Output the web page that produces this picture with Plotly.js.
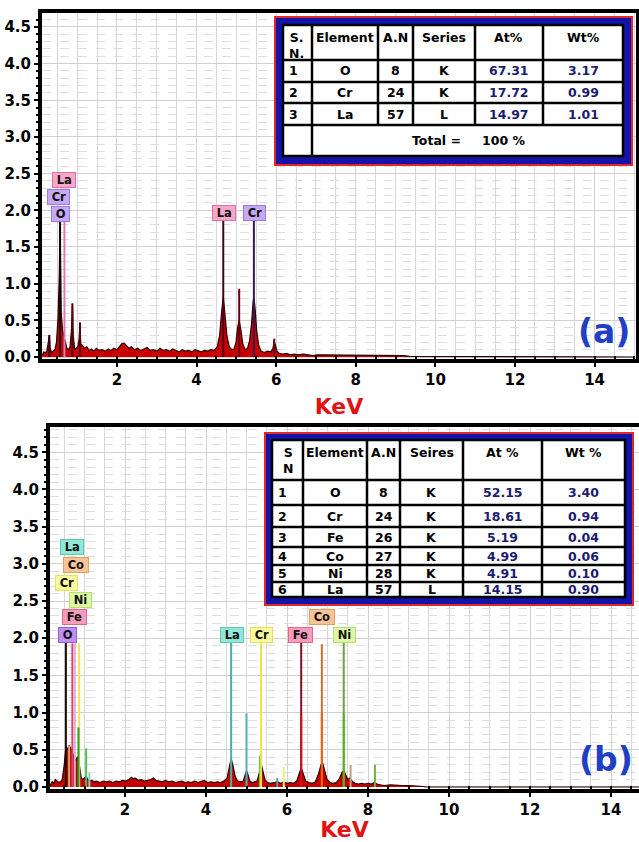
<!DOCTYPE html>
<html><head><meta charset="utf-8">
<script src="https://cdn.plot.ly/plotly-3.0.1.min.js"></script>
<style>html,body{margin:0;padding:0;background:#fff}#chart{width:639px;height:842px}</style>
</head><body><div id="chart"></div>
<script>
// ---------- DATA ----------
// Spectrum (a): energy (keV) and intensity
const energyA = [0.12,0.16,0.2,0.24,0.28,0.3,0.32,0.36,0.4,0.44,0.48,0.52,0.55,0.57,0.6,0.63,0.66,0.7,0.74,0.78,0.82,0.86,0.88,0.9,0.94,0.98,1.02,1.05,1.07,1.09,1.13,1.18,1.24,1.3,1.36,1.42,1.48,1.55,1.62,1.7,1.78,1.85,1.92,2.0,2.06,2.12,2.18,2.24,2.3,2.36,2.44,2.52,2.6,2.68,2.76,2.84,2.92,3.0,3.08,3.16,3.24,3.32,3.4,3.48,3.56,3.64,3.72,3.8,3.88,3.96,4.04,4.12,4.2,4.28,4.36,4.44,4.52,4.58,4.63,4.67,4.71,4.76,4.82,4.88,4.94,4.99,5.03,5.07,5.11,5.16,5.22,5.28,5.33,5.38,5.42,5.44,5.47,5.51,5.56,5.62,5.7,5.78,5.86,5.92,5.95,5.98,6.02,6.08,6.16,6.26,6.36,6.46,6.56,6.68,6.8,6.92,7.04,7.16,7.3,7.44,7.58,7.72,7.86,8.0,8.15,8.3,8.45,8.6,8.75,8.9,9.05,9.2,9.35,9.5,9.6,15.0];
const countsA = [0.02,0.07,0.05,0.09,0.22,0.30,0.12,0.06,0.08,0.10,0.20,0.55,1.10,1.87,0.60,0.38,0.30,0.20,0.12,0.10,0.14,0.40,0.73,0.30,0.10,0.12,0.15,0.25,0.47,0.18,0.16,0.12,0.14,0.09,0.11,0.08,0.12,0.09,0.10,0.08,0.11,0.09,0.12,0.10,0.14,0.18,0.19,0.16,0.12,0.14,0.10,0.12,0.09,0.11,0.13,0.09,0.10,0.08,0.12,0.09,0.10,0.08,0.11,0.09,0.07,0.10,0.08,0.09,0.07,0.10,0.08,0.07,0.09,0.08,0.10,0.09,0.14,0.30,0.62,0.82,0.60,0.30,0.14,0.10,0.11,0.20,0.40,0.50,0.38,0.18,0.10,0.12,0.22,0.45,0.75,0.82,0.66,0.36,0.16,0.08,0.06,0.08,0.07,0.12,0.22,0.14,0.08,0.05,0.04,0.05,0.03,0.04,0.03,0.04,0.03,0.02,0.03,0.03,0.02,0.03,0.02,0.03,0.02,0.03,0.02,0.03,0.02,0.02,0.03,0.02,0.02,0.02,0.01,0.01,0.0,0.0];

// Spectrum (b)
const energyB = [0.15,0.2,0.24,0.28,0.32,0.36,0.4,0.45,0.5,0.54,0.58,0.62,0.66,0.7,0.74,0.78,0.82,0.85,0.88,0.92,0.96,1.0,1.04,1.08,1.12,1.18,1.24,1.3,1.38,1.46,1.54,1.62,1.7,1.78,1.86,1.94,2.02,2.1,2.16,2.2,2.26,2.32,2.4,2.48,2.56,2.64,2.7,2.76,2.84,2.92,3.0,3.08,3.16,3.24,3.32,3.4,3.48,3.56,3.64,3.72,3.8,3.88,3.96,4.04,4.12,4.2,4.28,4.36,4.44,4.52,4.57,4.62,4.67,4.72,4.78,4.86,4.92,4.96,5.0,5.04,5.08,5.14,5.2,5.26,5.31,5.36,5.41,5.46,5.52,5.6,5.68,5.76,5.84,5.92,6.0,6.08,6.16,6.24,6.3,6.35,6.4,6.46,6.54,6.62,6.7,6.78,6.84,6.88,6.93,6.99,7.06,7.14,7.22,7.3,7.36,7.4,7.45,7.5,7.55,7.6,7.68,7.76,7.84,7.92,8.0,8.08,8.16,8.22,8.3,8.4,8.55,8.7,8.85,9.0,9.15,9.3,9.45,14.7];
const countsB = [0.02,0.07,0.05,0.10,0.08,0.06,0.07,0.10,0.30,0.55,0.50,0.56,0.52,0.45,0.40,0.35,0.40,0.38,0.25,0.12,0.10,0.12,0.14,0.10,0.08,0.09,0.07,0.08,0.06,0.08,0.07,0.08,0.06,0.08,0.07,0.09,0.08,0.10,0.13,0.11,0.12,0.09,0.10,0.08,0.09,0.10,0.12,0.09,0.08,0.07,0.09,0.07,0.08,0.06,0.07,0.08,0.06,0.07,0.06,0.08,0.06,0.07,0.09,0.06,0.07,0.06,0.07,0.06,0.08,0.12,0.24,0.38,0.28,0.14,0.08,0.07,0.08,0.14,0.22,0.16,0.08,0.06,0.07,0.08,0.18,0.32,0.20,0.09,0.06,0.05,0.06,0.07,0.05,0.07,0.05,0.06,0.05,0.08,0.18,0.26,0.18,0.08,0.06,0.05,0.07,0.18,0.30,0.32,0.22,0.10,0.06,0.05,0.06,0.12,0.20,0.22,0.16,0.10,0.12,0.08,0.05,0.04,0.05,0.04,0.05,0.04,0.06,0.04,0.03,0.02,0.03,0.02,0.02,0.02,0.01,0.01,0.0,0.0];

// Element marker lines (a)
const lineEnergyA = [0.30, 0.57, 0.68, 0.88, 1.07, 4.67, 5.07, 5.44, 5.95];
const lineHeightA = [0.30, 1.87, 1.87, 0.73, 0.47, 1.87, 0.93, 1.87, 0.25];
// Element marker lines (b)
const lineEnergyB = [0.54, 0.62, 0.70, 0.76, 0.87, 0.85, 1.04, 1.12, 4.62, 5.00, 5.33, 5.36, 5.76, 5.92, 6.35, 6.35, 6.86, 6.86, 7.40, 7.40, 7.57, 8.17];
const lineHeightB = [1.95, 0.56, 1.93, 1.93, 1.93, 0.80, 0.52, 0.19, 1.95, 0.99, 0.42, 1.95, 0.12, 0.27, 1.95, 0.99, 1.92, 0.99, 1.95, 0.99, 0.30, 0.30];

// Peak labels
const labelTextA = ['La','Cr','O','La','Cr'];
const labelEnergyA = [0.66, 0.53, 0.57, 4.70, 5.45];
const labelLevelA = [2.41, 2.18, 1.95, 1.96, 1.96];
const labelTextB = ['La','Co','Cr','Ni','Fe','O','La','Cr','Fe','Co','Ni'];
const labelEnergyB = [0.68, 0.80, 0.56, 0.89, 0.75, 0.57, 4.64, 5.38, 6.33, 6.86, 7.43];
const labelLevelB = [3.22, 2.98, 2.74, 2.51, 2.28, 2.05, 2.05, 2.05, 2.05, 2.28, 2.05];

// Tables
const headerA = ['S.<br>N.','Element','A.N','Series','At%','Wt%'];
const snA = ['1','2','3'];
const elemA = ['O','Cr','La'];
const anA = ['8','24','57'];
const seriesA = ['K','K','L'];
const atA = ['67.31','17.72','14.97'];
const wtA = ['3.17','0.99','1.01'];
const totalA = ['Total =','100 %'];

const headerB = ['S<br>N','Element','A.N','Seires','At %','Wt %'];
const snB = ['1','2','3','4','5','6'];
const elemB = ['O','Cr','Fe','Co','Ni','La'];
const anB = ['8','24','26','27','28','57'];
const seriesB = ['K','K','K','K','K','L'];
const atB = ['52.15','18.61','5.19','4.99','4.91','14.15'];
const wtB = ['3.40','0.94','0.04','0.06','0.10','0.90'];

const xTicks = [2,4,6,8,10,12,14];

// ---------- STYLES ----------
const W = 639, H = 842;
const px = x => x / W, py = y => 1 - y / H;
const FONT = 'DejaVu Sans';
const lineColorA = ['#3a0010','#1a0008','#e07ab4','#5a0010','#5a0010','#4a0018','#6a0018','#3a1850','#6a0018'];
const lineColorB = ['#1a0a0a','#e0a070','#e0406a','#d8b0d8','#f0e060','#20a030','#50c050','#80d0d0','#50b0a0','#50b0b8','#70c050','#f0e040','#50a0b0','#f0f080','#801020','#d01020','#d07030','#f06010','#70a040','#60b020','#c0a080','#70b040'];
const labelStyle = {
  'La_a': ['#f4a8cc','#e070a8'], 'Cr_a': ['#c6a8f4','#9a78dc'], 'O_a': ['#c6a8f4','#9a78dc'],
  'La_b': ['#92e8d6','#60c8b0'], 'Co_b': ['#f6c496','#e0a060'], 'Cr_b': ['#fafa9e','#e8e060'],
  'Ni_b': ['#dcf8a4','#b8e070'], 'Fe_b': ['#f89cbc','#e06890'], 'O_b': ['#bc90ec','#9060d0']
};

const traces = [];
traces.push({x: energyA, y: countsA, type:'scatter', mode:'lines', fill:'tozeroy',
  fillcolor:'#c80000', line:{color:'#2a0000', width:1.2}, xaxis:'x', yaxis:'y', hoverinfo:'skip'});
traces.push({x: energyB, y: countsB, type:'scatter', mode:'lines', fill:'tozeroy',
  fillcolor:'#c40000', line:{color:'#2a0000', width:1.2}, xaxis:'x2', yaxis:'y2', hoverinfo:'skip'});
lineEnergyA.forEach((e,i) => traces.push({x:[e,e], y:[0,lineHeightA[i]], type:'scatter', mode:'lines',
  line:{color:lineColorA[i], width:2}, xaxis:'x', yaxis:'y', hoverinfo:'skip'}));
lineEnergyB.forEach((e,i) => traces.push({x:[e,e], y:[0,lineHeightB[i]], type:'scatter', mode:'lines',
  line:{color:lineColorB[i], width:2}, xaxis:'x2', yaxis:'y2', hoverinfo:'skip'}));

const annotations = [];
function peakLabel(t, e, lv, xr, yr, key){
  const st = labelStyle[key];
  annotations.push({text:'&nbsp;<b>'+t+'</b>&nbsp;', x:e, y:lv, xref:xr, yref:yr, showarrow:false,
    font:{family:FONT, size:11.5, color:'#111'}, bgcolor:st[0], bordercolor:st[1], borderwidth:1, borderpad:0});
}
labelTextA.forEach((t,i)=>peakLabel(t, labelEnergyA[i], labelLevelA[i], 'x', 'y', t+'_a'));
labelTextB.forEach((t,i)=>peakLabel(t, labelEnergyB[i], labelLevelB[i], 'x2', 'y2', t+'_b'));

const shapes = [];
function txt(t, x, y, opts){
  annotations.push(Object.assign({text:t, x:px(x), y:py(y), xref:'paper', yref:'paper', showarrow:false,
    font:{family:FONT, size:12, color:'#000', weight:700}, xanchor:'center', yanchor:'middle'}, opts||{}));
}
function rect(x0,y0,x1,y1,fill,lc,lw){
  shapes.push({type:'rect', xref:'paper', yref:'paper', x0:px(x0), x1:px(x1), y0:py(y1), y1:py(y0),
    fillcolor:fill, line:{color:lc, width:lw}, layer:'above'});
}
function seg(x0,y0,x1,y1,lw){
  shapes.push({type:'line', xref:'paper', yref:'paper', x0:px(x0), x1:px(x1), y0:py(y0), y1:py(y1),
    line:{color:'#000', width:lw}, layer:'above'});
}
function drawTable(g, header, cols, colColors, total){
  rect(g.ox0, g.oy0, g.ox1, g.oy1, '#1414aa', '#e02828', 2);
  rect(g.cx[0], g.ry[0], g.cx[g.cx.length-1], g.ry[g.ry.length-1], '#ffffff', '#000', 2.5);
  const lastDataRow = g.ry[1 + cols[0].length];
  g.cx.slice(1,-1).forEach((x,i)=> seg(x, g.ry[0], x, i===0 ? g.ry[g.ry.length-1] : lastDataRow, 2.5));
  g.ry.slice(1,-1).forEach(y=> seg(g.cx[0], y, g.cx[g.cx.length-1], y, 2.5));
  header.forEach((h,j)=>{
    const x = j===0 ? g.cx[0]+ (g.snLeft? 4 : (g.cx[1]-g.cx[0])/2) : (g.cx[j]+g.cx[j+1])/2;
    txt('<b>'+h+'</b>', x, g.ry[0]+3, {yanchor:'top', xanchor: (j===0 && g.snLeft)?'left':'center',
      font:{family:FONT, size:12.5, color:'#000', weight:700}});
  });
  cols.forEach((col,j)=>{
    col.forEach((v,r)=>{
      const y = (g.ry[r+1]+g.ry[r+2])/2;
      const x = j===0 ? g.cx[0]+4 : (g.cx[j]+g.cx[j+1])/2;
      txt('<b>'+v+'</b>', x, y, {xanchor: j===0?'left':'center', font:{family:FONT, size:12.5, color:colColors[j], weight:700}});
    });
  });
  if(total){
    const y = (g.ry[g.ry.length-2]+g.ry[g.ry.length-1])/2;
    txt('<b>'+total[0]+'</b>', (g.cx[3]+g.cx[4])/2 - 8, y, {font:{family:FONT, size:12.5, color:'#000'}});
    txt('<b>'+total[1]+'</b>', (g.cx[4]+g.cx[5])/2 - 5, y, {font:{family:FONT, size:12.5, color:'#000'}});
  }
}
const navy = '#1c1c6e';
drawTable({ox0:275, oy0:17, ox1:632, oy1:165, cx:[283,312,378,413,475,543,623], ry:[25,60,82,103,125,156], snLeft:true},
  headerA, [snA, elemA, anA, seriesA, atA, wtA], ['#000','#000','#000','#000',navy,navy], totalA);
drawTable({ox0:265, oy0:433, ox1:633, oy1:605, cx:[272,303,367,400,463,542,625], ry:[440,480,505,527,547,565,582,597], snLeft:false},
  headerB, [snB, elemB, anB, seriesB, atB, wtB], ['#000','#000','#000','#000',navy,navy], null);

annotations.push({text:'<b>(a)</b>', x:px(604), y:py(331), xref:'paper', yref:'paper', showarrow:false,
  font:{family:FONT, size:33, color:'#1f3fc4'}, xanchor:'center', yanchor:'middle'});
annotations.push({text:'<b>(b)</b>', x:px(606), y:py(759), xref:'paper', yref:'paper', showarrow:false,
  font:{family:FONT, size:33, color:'#1f3fc4'}, xanchor:'center', yanchor:'middle'});

const tickFont = {family:FONT, size:15, color:'#000', weight:700};
function xAxis(dom, rng, anchor){
  return {domain:dom, range:rng, anchor:anchor, tickmode:'array', tickvals:xTicks, ticktext:xTicks.map(String),
    ticks:'outside', ticklen:4, tickwidth:2, tickcolor:'#000', tickfont:tickFont,
    showline:true, linecolor:'#000', linewidth:4, mirror:true, zeroline:false,
    showgrid:true, gridcolor:'#d2d2d2', gridwidth:1,
    minor:{dtick:0.5, tick0:0, showgrid:true, gridcolor:'#d8d8d8', gridwidth:1, ticks:'inside', ticklen:3, tickcolor:'#000'},
    title:{text:'<b>KeV</b>', font:{family:FONT, size:22, color:'#e01414'}, standoff:12}};
}
function yAxis(dom, rng, anchor, mirror){
  return {domain:dom, range:rng, anchor:anchor, dtick:0.5, tick0:0, tickformat:'.1f',
    ticks:'outside', ticklen:4, tickwidth:2, tickcolor:'#000', tickfont:tickFont,
    showline:true, linecolor:'#000', linewidth:4, mirror:mirror, zeroline:false,
    showgrid:true, gridcolor:'#d0d0d0', gridwidth:1,
    minor:{dtick:0.1, showgrid:true, gridcolor:'#dedede', gridwidth:1, griddash:'dash', ticks:'outside', ticklen:2, tickcolor:'#000'}};
}

const layout = {
  width:W, height:H, margin:{l:0, r:0, t:0, b:0}, paper_bgcolor:'#fff', plot_bgcolor:'#fff', showlegend:false,
  xaxis: xAxis([42/W, 636/W], [0.116, 15.04], 'y'),
  yaxis: yAxis([1-359/H, 1-13/H], [-0.027, 4.69], 'x', true),
  xaxis2: Object.assign(xAxis([50/W, 1], [0.148, 14.69], 'y2'), {mirror:true}),
  yaxis2: yAxis([1-789/H, 1-427/H], [-0.027, 4.84], 'x2', false),
  shapes: shapes, annotations: annotations
};
Plotly.newPlot('chart', traces, layout, {displayModeBar:false, staticPlot:true});
</script></body></html>
